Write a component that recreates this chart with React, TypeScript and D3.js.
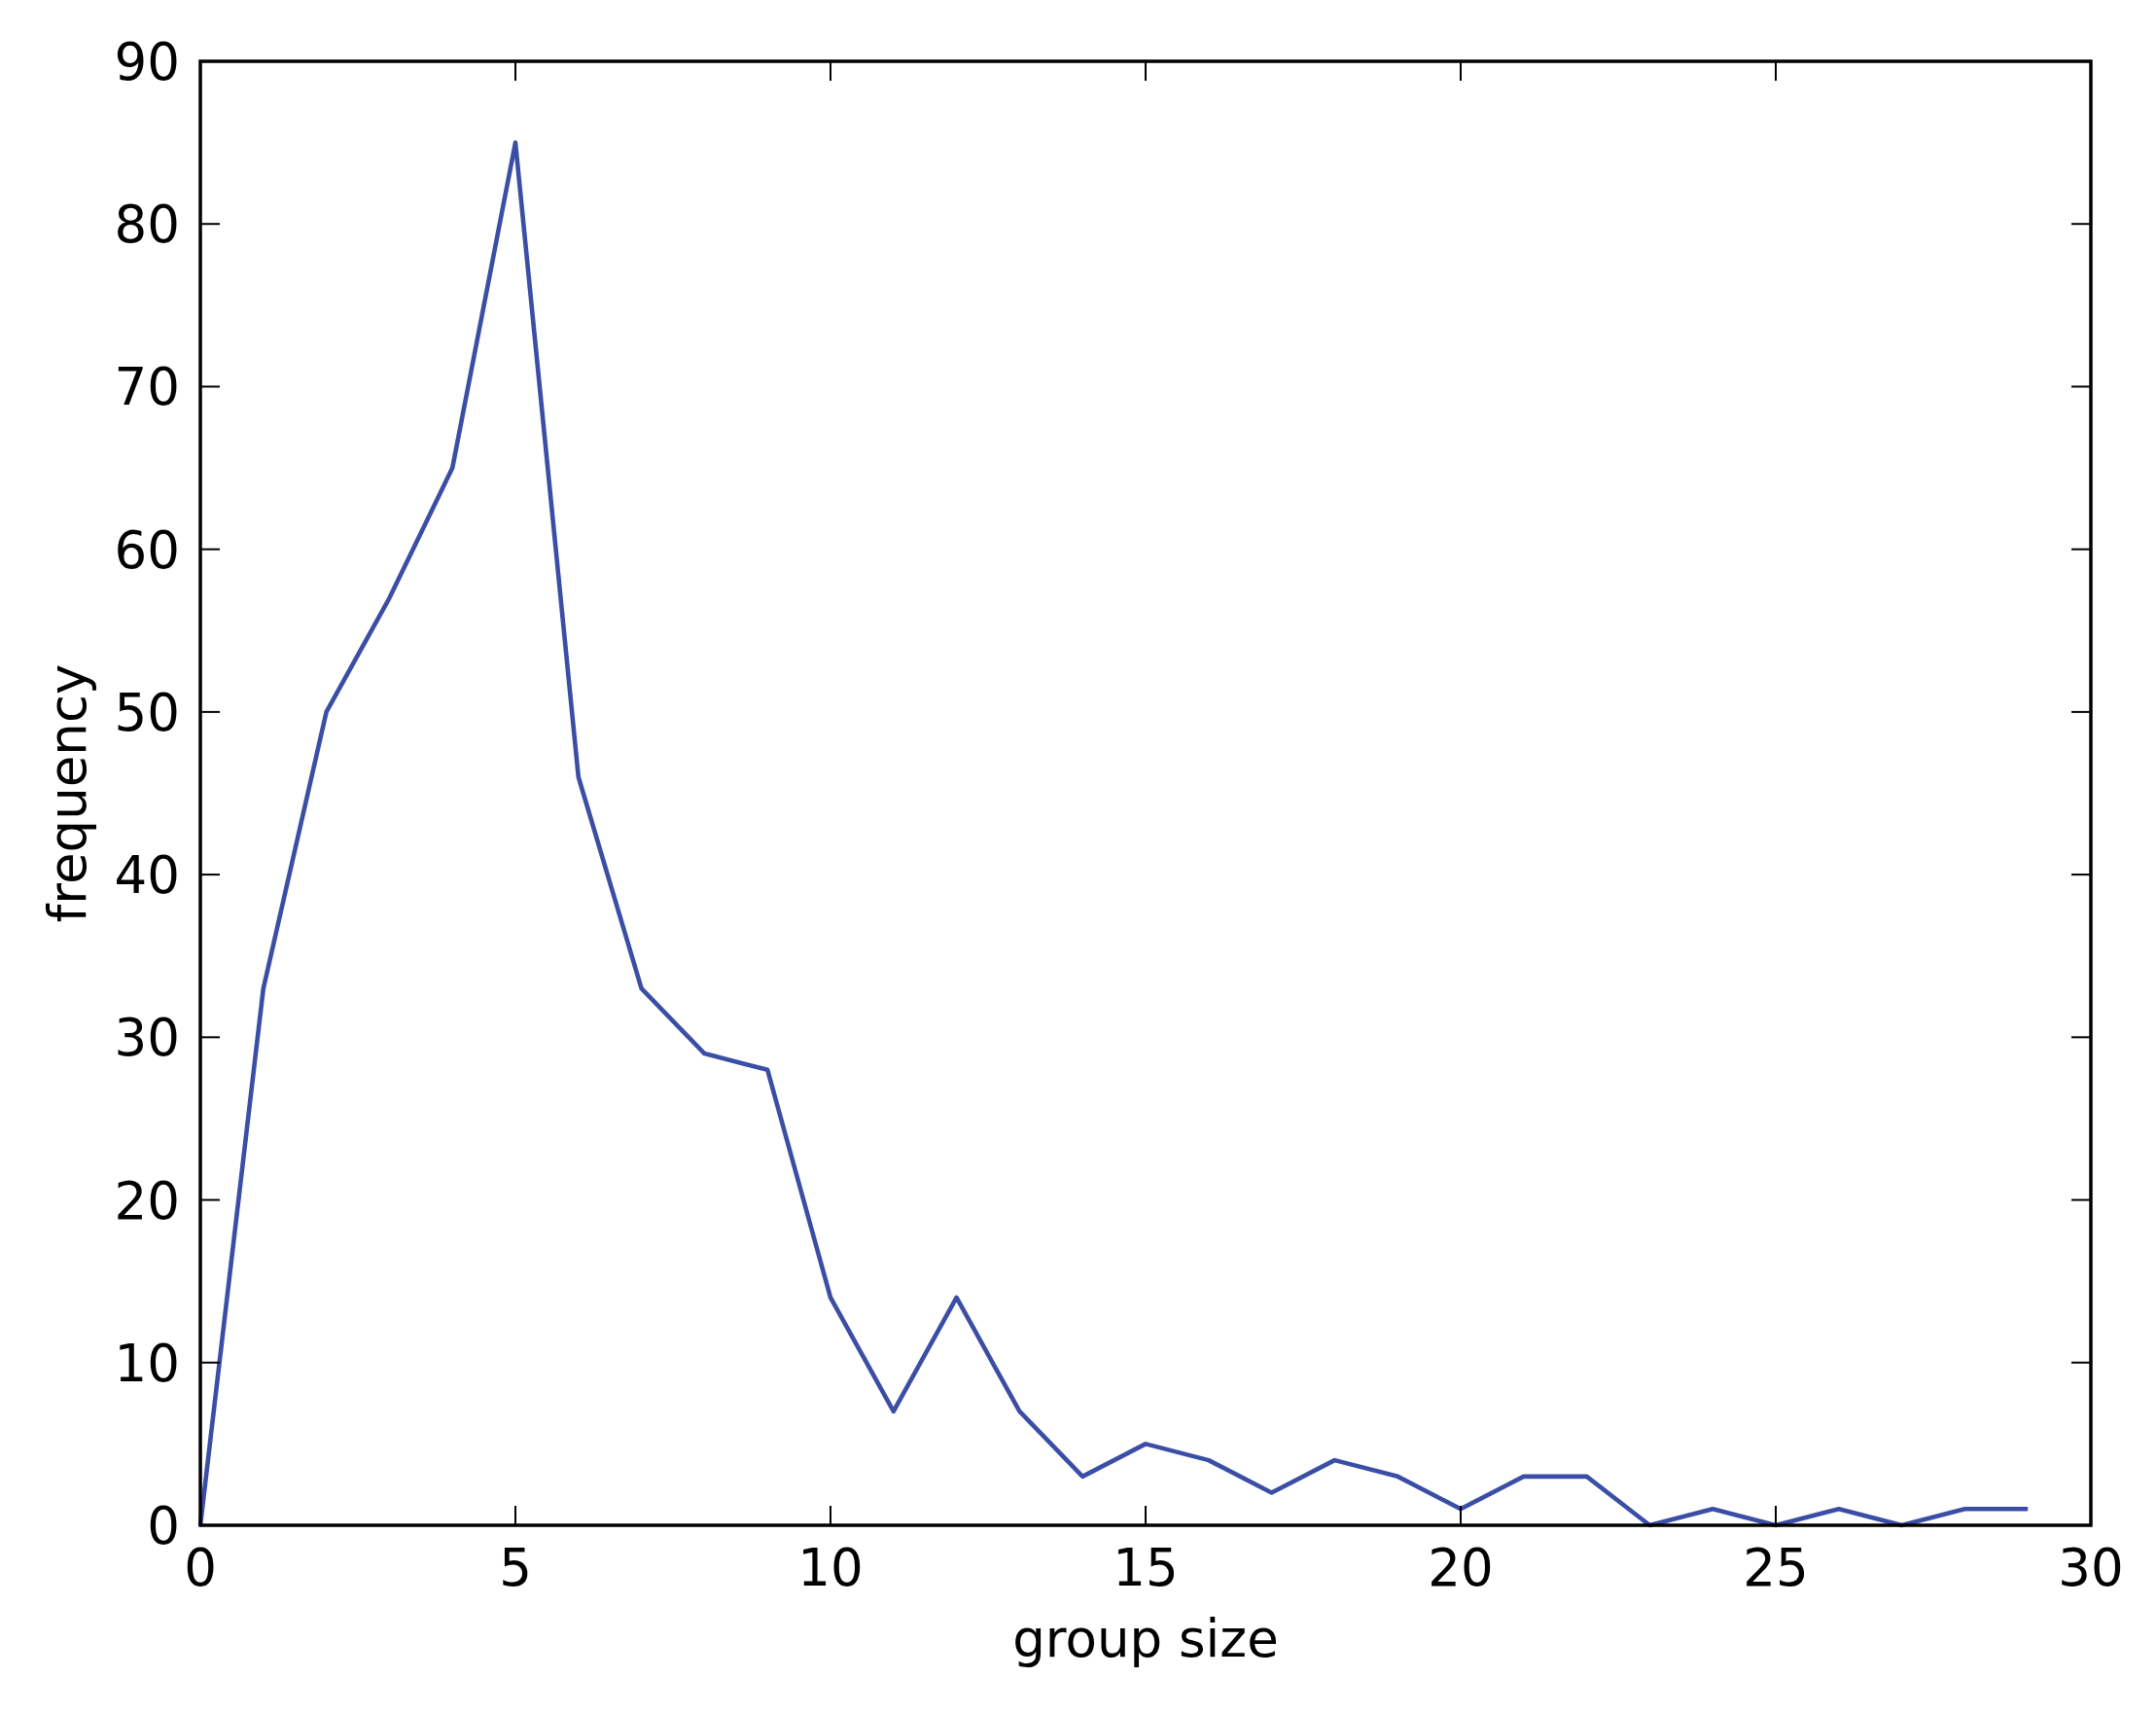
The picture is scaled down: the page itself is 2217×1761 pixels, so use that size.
import React from "react";
import * as d3 from "d3";

const groupSizes = [0,1,2,3,4,5,6,7,8,9,10,11,12,13,14,15,16,17,18,19,20,21,22,23,24,25,26,27,28,29];
const frequencies = [0,33,50,57,65,85,46,33,29,28,14,7,14,7,3,5,4,2,4,3,1,3,3,0,1,0,1,0,1,1];
const xTicks = [0,5,10,15,20,25,30];
const yTicks = [0,10,20,30,40,50,60,70,80,90];
const xLabel = "group size";
const yLabel = "frequency";

const W = 2217, H = 1761;
const L = 206, R = 2150, T = 63, B = 1568;
const FONT = "'DejaVu Sans', sans-serif";
const FS = 53;
const TICK = 20;

export default function App() {
  const x = d3.scaleLinear().domain([0, 30]).range([L, R]);
  const y = d3.scaleLinear().domain([0, 90]).range([B, T]);
  const line = d3.line<number>().x((_, i) => x(groupSizes[i])).y((d) => y(d));
  const path = line(frequencies) || "";

  return (
    <svg width={W} height={H} style={{ position: "absolute", left: 0, top: 0, background: "#fff" }}>
      <rect x={0} y={0} width={W} height={H} fill="#fff" />
      <path d={path} fill="none" stroke="#3b4ea6" strokeWidth={4.6} strokeLinejoin="round" />
      {xTicks.map((t) => (
        <g key={"x" + t}>
          <line x1={x(t)} x2={x(t)} y1={B} y2={B - TICK} stroke="#000" strokeWidth={2} />
          <line x1={x(t)} x2={x(t)} y1={T} y2={T + TICK} stroke="#000" strokeWidth={2} />
          <text x={x(t)} y={B + 62} textAnchor="middle" fontFamily={FONT} fontSize={FS} fill="#000">{t}</text>
        </g>
      ))}
      {yTicks.map((t) => (
        <g key={"y" + t}>
          <line x1={L} x2={L + TICK} y1={y(t)} y2={y(t)} stroke="#000" strokeWidth={2} />
          <line x1={R} x2={R - TICK} y1={y(t)} y2={y(t)} stroke="#000" strokeWidth={2} />
          <text x={L - 21} y={y(t) + 19} textAnchor="end" fontFamily={FONT} fontSize={FS} fill="#000">{t}</text>
        </g>
      ))}
      <rect x={L} y={T} width={R - L} height={B - T} fill="none" stroke="#000" strokeWidth={3.5} />
      <text x={(L + R) / 2} y={1703} textAnchor="middle" fontFamily={FONT} fontSize={FS} fill="#000">{xLabel}</text>
      <text transform={`translate(88, ${(T + B) / 2}) rotate(-90)`} textAnchor="middle" fontFamily={FONT} fontSize={FS} fill="#000">{yLabel}</text>
    </svg>
  );
}
